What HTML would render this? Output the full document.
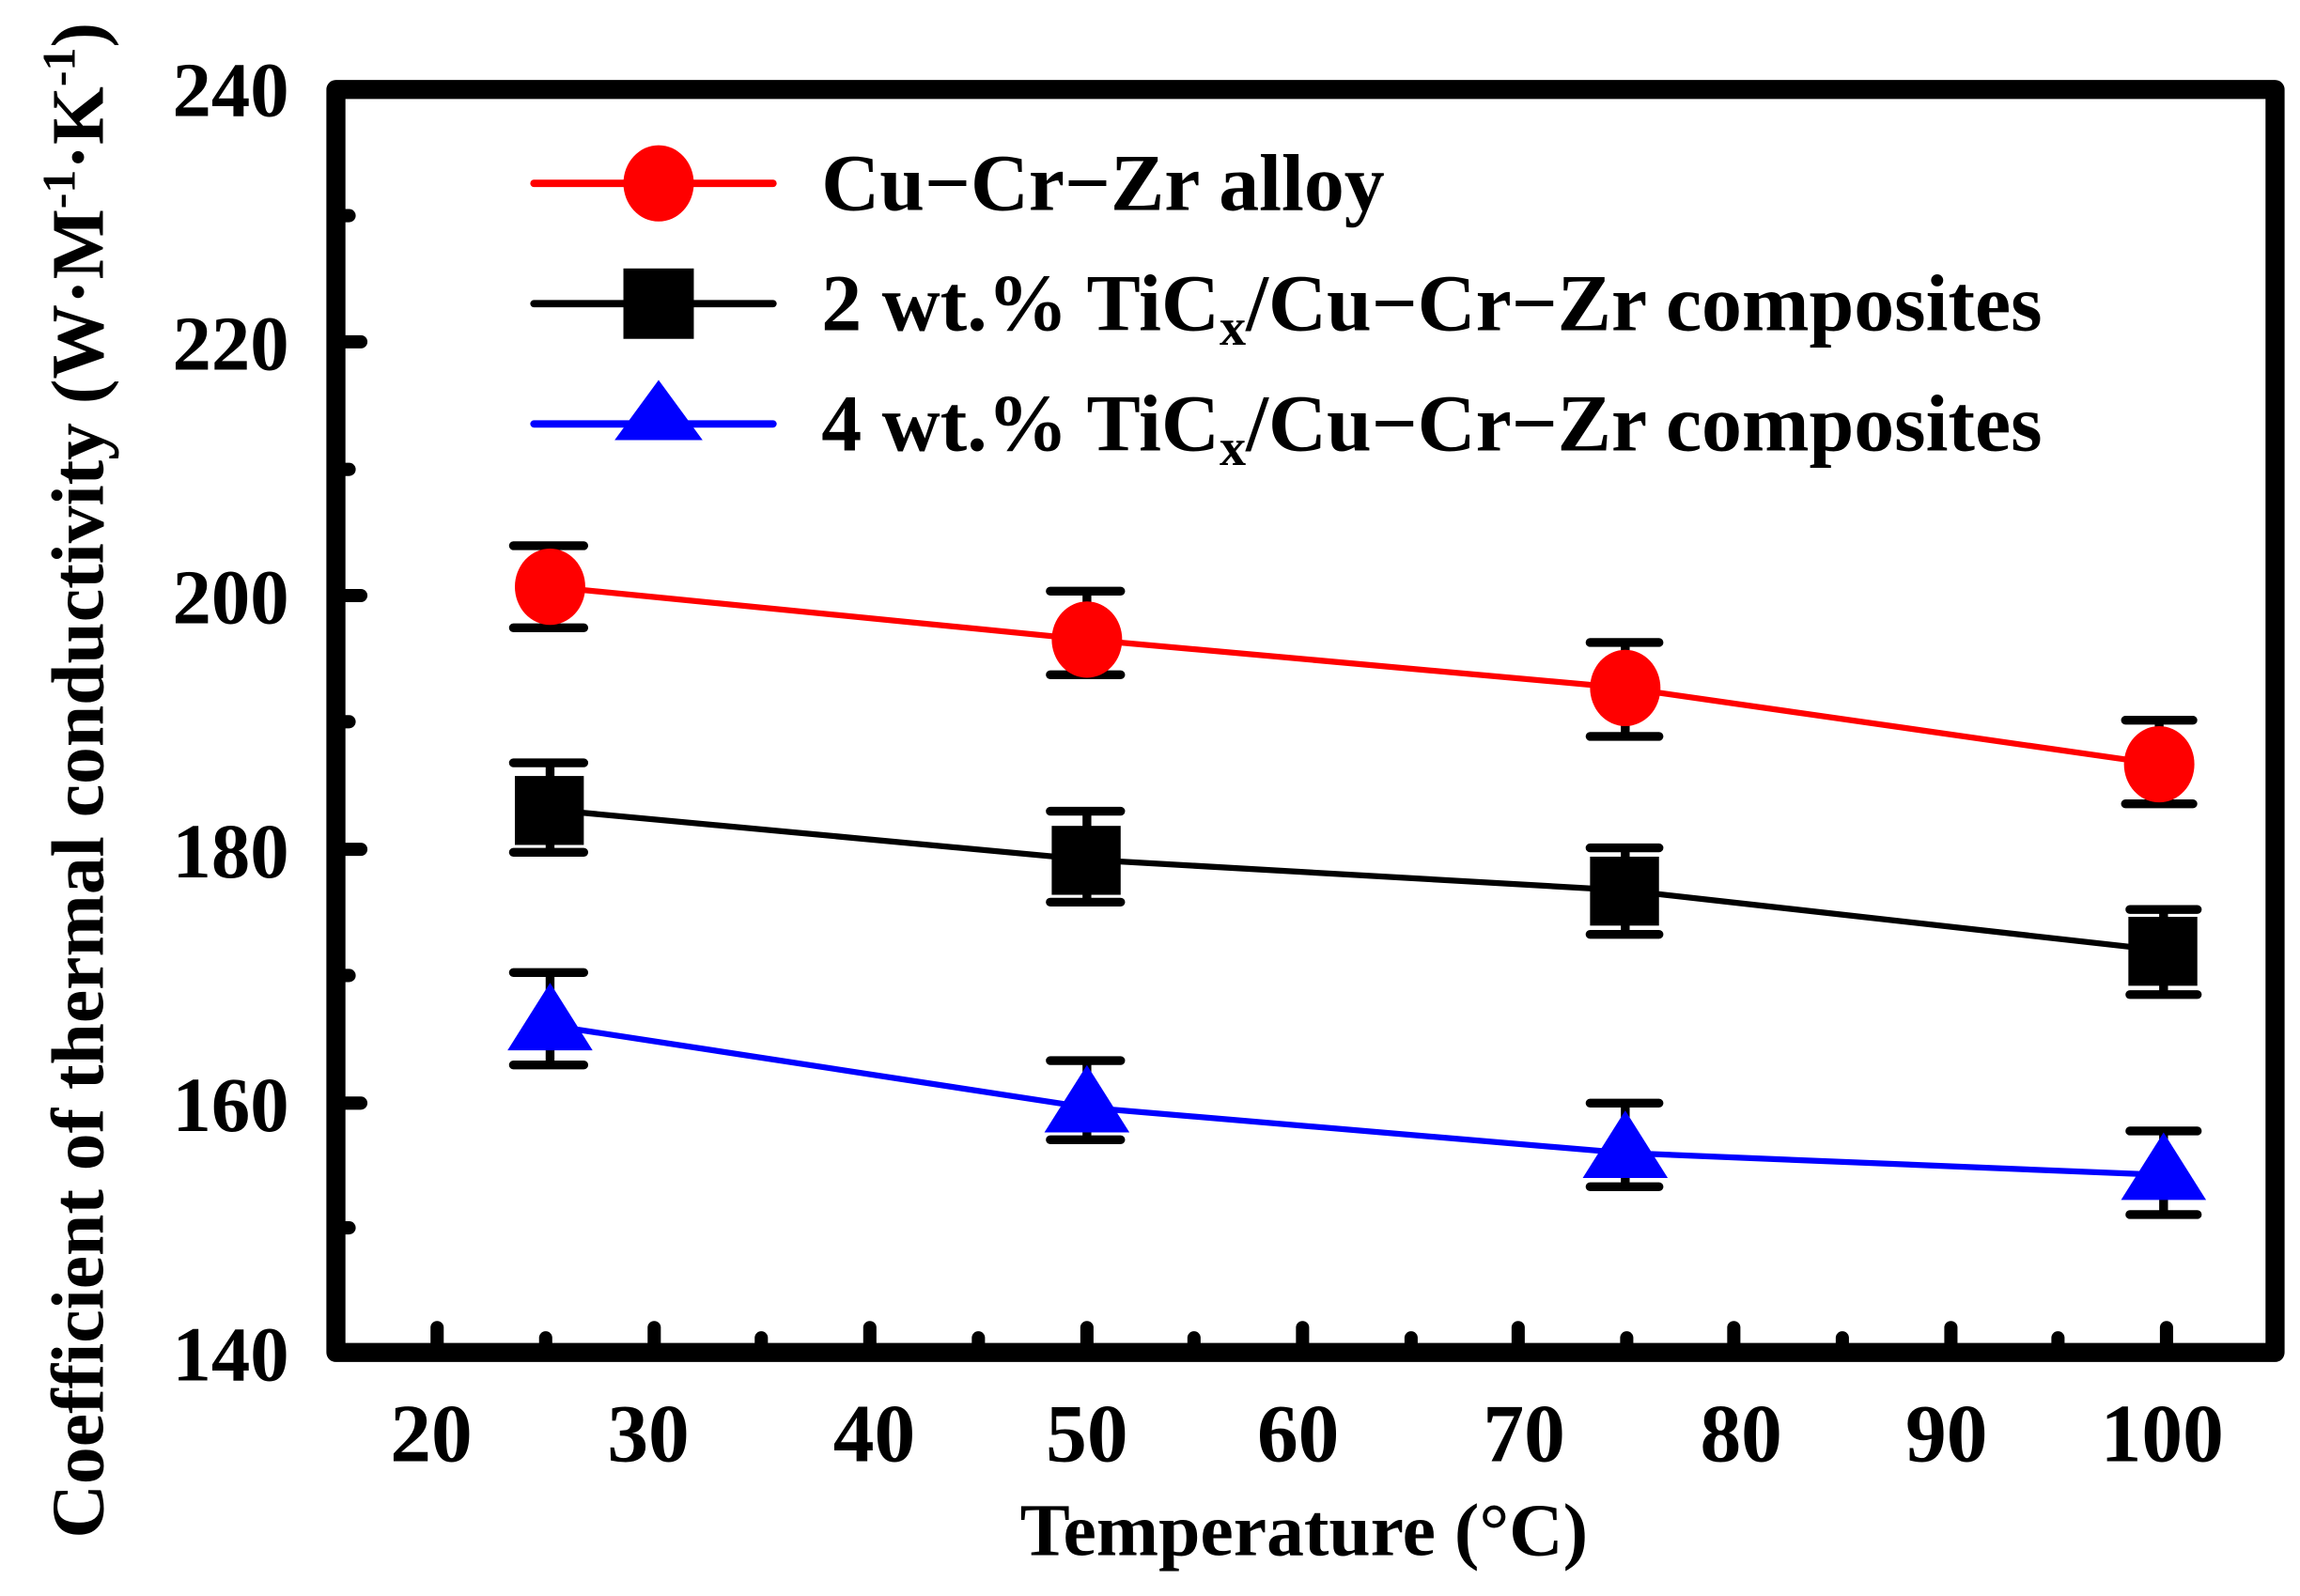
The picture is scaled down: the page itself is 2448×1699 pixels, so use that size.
<!DOCTYPE html>
<html><head><meta charset="utf-8"><style>
html,body{margin:0;padding:0;background:#fff;}
svg{display:block;}
text{font-family:"Liberation Serif",serif;font-weight:bold;fill:#000;}
</style></head><body>
<svg width="2448" height="1699" viewBox="0 0 1568 1088" preserveAspectRatio="none" xmlns="http://www.w3.org/2000/svg">
<rect width="1568" height="1088" fill="#fff"/>
<g stroke="#000" stroke-width="9" stroke-linecap="round">
<line x1="234" y1="233" x2="246" y2="233"/><line x1="234" y1="406" x2="246" y2="406"/>
<line x1="234" y1="579" x2="246" y2="579"/><line x1="234" y1="752" x2="246" y2="752"/>
<line x1="234" y1="147" x2="238" y2="147"/><line x1="234" y1="320" x2="238" y2="320"/>
<line x1="234" y1="492" x2="238" y2="492"/><line x1="234" y1="665" x2="238" y2="665"/>
<line x1="234" y1="837" x2="238" y2="837"/>
<line x1="298" y1="916" x2="298" y2="905"/><line x1="446" y1="916" x2="446" y2="905"/>
<line x1="593" y1="916" x2="593" y2="905"/><line x1="741" y1="916" x2="741" y2="905"/>
<line x1="888" y1="916" x2="888" y2="905"/><line x1="1035" y1="916" x2="1035" y2="905"/>
<line x1="1182" y1="916" x2="1182" y2="905"/><line x1="1330" y1="916" x2="1330" y2="905"/>
<line x1="1477" y1="916" x2="1477" y2="905"/>
<line x1="372" y1="916" x2="372" y2="912"/><line x1="519" y1="916" x2="519" y2="912"/>
<line x1="667" y1="916" x2="667" y2="912"/><line x1="814" y1="916" x2="814" y2="912"/>
<line x1="962" y1="916" x2="962" y2="912"/><line x1="1109" y1="916" x2="1109" y2="912"/>
<line x1="1256" y1="916" x2="1256" y2="912"/><line x1="1403" y1="916" x2="1403" y2="912"/>
</g>
<rect x="229" y="61" width="1322" height="861" fill="none" stroke="#000" stroke-width="13" stroke-linejoin="round"/>
<polyline points="375,400 741,436 1108,469 1472,521" fill="none" stroke="#f00" stroke-width="4"/>
<polyline points="375,552 741,586 1108,607 1475,648" fill="none" stroke="#000" stroke-width="4"/>
<polyline points="375,699 741,755 1108,786 1475,801" fill="none" stroke="#00f" stroke-width="4"/>
<g stroke="#000" stroke-width="6" stroke-linecap="round" fill="none">
<path d="M375 372V428M350 372H398M350 428H398"/>
<path d="M741 403V460M716 403H764M716 460H764"/>
<path d="M1108 438V502M1084 438H1131M1084 502H1131"/>
<path d="M1472 491V548M1449 491H1495M1449 548H1495"/>
<path d="M375 520V581M350 520H398M350 581H398"/>
<path d="M741 553V615M716 553H764M716 615H764"/>
<path d="M1108 578V637M1084 578H1131M1084 637H1131"/>
<path d="M1475 620V678M1452 620H1498M1452 678H1498"/>
<path d="M375 663V726M350 663H398M350 726H398"/>
<path d="M741 723V777M716 723H764M716 777H764"/>
<path d="M1108 752V809M1084 752H1131M1084 809H1131"/>
<path d="M1475 771V828M1452 771H1498M1452 828H1498"/>
</g>
<g fill="#f00">
<ellipse cx="375" cy="400" rx="24" ry="26"/><ellipse cx="741" cy="436" rx="24" ry="26"/>
<ellipse cx="1108" cy="469" rx="24" ry="26"/><ellipse cx="1472" cy="521" rx="24" ry="26"/>
</g>
<g fill="#000">
<rect x="351" y="529" width="47" height="47"/><rect x="717" y="563" width="47" height="47"/>
<rect x="1084" y="584" width="47" height="47"/><rect x="1451" y="625" width="47" height="47"/>
</g>
<g fill="#00f">
<polygon points="375,670 346,716 404,716"/><polygon points="741,726 712,772 770,772"/>
<polygon points="1108,757 1079,803 1137,803"/><polygon points="1475,772 1446,818 1504,818"/>
</g>
<line x1="364" y1="125" x2="527" y2="125" stroke="#f00" stroke-width="5" stroke-linecap="round"/>
<ellipse cx="449" cy="125" rx="24" ry="26" fill="#f00"/>
<line x1="364" y1="207" x2="527" y2="207" stroke="#000" stroke-width="5" stroke-linecap="round"/>
<rect x="425" y="183" width="48" height="48" fill="#000"/>
<line x1="364" y1="289" x2="527" y2="289" stroke="#00f" stroke-width="5" stroke-linecap="round"/>
<polygon points="449,259 419,300 479,300" fill="#00f"/>
<text x="560" y="143" font-size="55">Cu−Cr−Zr alloy</text>
<text x="560" y="225" font-size="55">2 wt.% TiC<tspan font-size="36" dy="10">x</tspan><tspan dy="-10">/Cu−Cr−Zr composites</tspan></text>
<text x="560" y="307" font-size="55">4 wt.% TiC<tspan font-size="36" dy="10">x</tspan><tspan dy="-10">/Cu−Cr−Zr composites</tspan></text>
<g font-size="53" text-anchor="end">
<text x="197" y="79">240</text><text x="197" y="252">220</text>
<text x="197" y="425">200</text><text x="197" y="598">180</text>
<text x="197" y="771">160</text><text x="197" y="941">140</text>
</g>
<g font-size="56" text-anchor="middle">
<text x="294" y="996">20</text><text x="442" y="996">30</text><text x="596" y="996">40</text>
<text x="741" y="996">50</text><text x="885" y="996">60</text><text x="1039" y="996">70</text>
<text x="1187" y="996">80</text><text x="1327" y="996">90</text><text x="1474" y="996">100</text>
</g>
<text x="889" y="1060" font-size="51" text-anchor="middle">Temperature (°C)</text>
<text transform="translate(70,532) rotate(-90)" font-size="51" text-anchor="middle">Coefficient of thermal conductivity (W·M<tspan font-size="32" dy="-19">-1</tspan><tspan dy="19">·K</tspan><tspan font-size="32" dy="-19">-1</tspan><tspan dy="19">)</tspan></text>
</svg>
</body></html>
